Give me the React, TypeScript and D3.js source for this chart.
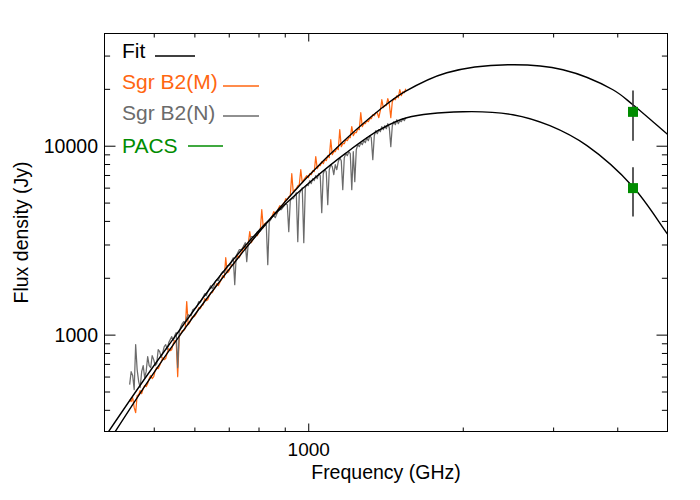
import React from 'react';
import * as d3 from 'd3';

const W = 700;
const H = 500;
const X_DOMAIN: [number, number] = [400, 5000];
const Y_DOMAIN: [number, number] = [309, 39500];
const X_MAJOR = [1000];
const X_MINOR = [500, 600, 700, 800, 900, 2000, 3000, 4000];
const Y_MAJOR = [1000, 10000];
const Y_MINOR = [400, 500, 600, 700, 800, 900, 2000, 3000, 4000, 5000, 6000, 7000, 8000, 9000, 20000, 30000];
const X_TICK_LABELS = ['1000'];
const Y_TICK_LABELS = ['1000', '10000'];

// SPIRE FTS spectral grid (GHz)
const specFreq = [
  447.8, 450.8, 453.9, 457.0, 460.0, 463.1, 466.3, 469.4, 472.6, 475.8,
  479.0, 482.2, 485.5, 488.8, 492.1, 495.4, 498.8, 502.2, 505.6, 509.0,
  512.4, 515.9, 519.4, 522.9, 526.4, 530.0, 533.5, 537.1, 540.8, 544.5,
  548.1, 551.8, 555.5, 559.3, 563.1, 566.9, 570.7, 574.6, 578.4, 582.3,
  586.3, 590.3, 594.2, 598.2, 602.3, 606.4, 610.4, 614.5, 618.7, 622.9,
  627.1, 631.3, 635.6, 639.9, 644.2, 648.6, 652.9, 657.3, 661.8, 666.3,
  670.8, 675.3, 679.9, 684.5, 689.1, 693.8, 698.4, 703.1, 707.9, 712.7,
  717.5, 722.3, 727.2, 732.1, 737.1, 742.1, 747.1, 752.1, 757.2, 762.3,
  767.5, 772.7, 777.9, 783.2, 788.4, 793.7, 799.1, 804.5, 810.0, 815.5,
  820.9, 826.5, 832.1, 837.7, 843.4, 849.1, 854.8, 860.6, 866.4, 872.3,
  878.1, 884.0, 890.0, 896.0, 902.1, 908.2, 914.3, 920.5, 926.7, 933.0,
  939.3, 945.6, 952.0, 958.4, 964.9, 971.4, 978.0, 984.6, 991.3, 998.0,
  1004.5, 1011.3, 1018.1, 1025.0, 1031.9, 1038.9, 1045.9, 1053.0, 1060.1, 1067.3,
  1074.5, 1081.8, 1089.0, 1096.4, 1103.8, 1111.3, 1118.8, 1126.4, 1134.0, 1141.7,
  1149.3, 1157.1, 1164.9, 1172.8, 1180.7, 1188.7, 1196.7, 1204.8, 1212.9, 1221.1,
  1229.4, 1237.7, 1246.0, 1254.4, 1262.9, 1271.4, 1280.1, 1288.8, 1297.4, 1306.2,
  1315.0, 1323.9, 1332.9, 1341.9, 1350.9, 1360.0, 1369.3, 1378.6, 1387.8, 1397.2,
  1406.6, 1416.1, 1425.7, 1435.3, 1445.0, 1454.8, 1464.6, 1474.5, 1484.5, 1494.5,
  1504.6, 1514.8, 1525.0, 1535.3, 1545.7,
];

// Sgr B2(M) flux (Jy)
const fluxM = [
  456, 445, 467, 413, 389, 479, 484, 509, 490, 521,
  541, 534, 554, 589, 611, 589, 604, 649, 673, 665,
  690, 724, 760, 742, 752, 808, 848, 828, 838, 902,
  935, 924, 603, 982, 1018, 1056, 1056, 1082, 1504, 1137,
  1165, 1222, 1253, 1253, 1283, 1331, 1398, 1381, 1432, 1450,
  1560, 1522, 1541, 1617, 1678, 1678, 1740, 1783, 1873, 1827,
  1895, 1966, 2064, 2015, 2570, 2141, 2168, 2276, 2360, 2331,
  2448, 2508, 2634, 2570, 2699, 2766, 2975, 2834, 2940, 3049,
  3528, 3086, 3201, 3280, 3401, 3360, 3528, 3571, 4613, 3705,
  3890, 3937, 3986, 4035, 4185, 4288, 4502, 4394, 4393, 4670,
  4844, 4785, 4903, 5024, 5276, 5211, 5405, 5471, 7154, 5676,
  5887, 5959, 6180, 6256, 7511, 6410, 6649, 6813, 6982, 6813,
  7154, 7067, 7420, 7330, 8800, 7603, 7886, 7886, 8280, 8081,
  8484, 8381, 8908, 8694, 10826, 9018, 9353, 9353, 9821, 9584,
  12229, 9941, 10312, 10312, 10826, 10695, 11093, 11093, 12684, 11367,
  11790, 11790, 12379, 12229, 15043, 12684, 13157, 13157, 13646, 13480,
  13983, 13983, 14681, 14497, 15043, 15043, 14154, 15414, 17624, 15988,
  16382, 16382, 17841, 16787, 14154, 17199, 17841, 17624, 18504, 18059,
  19908, 18504, 19428, 19193, 20153,
];

// Sgr B2(N) flux (Jy)
const fluxN = [
  547, 641, 611, 515, 891, 657, 568, 528, 641, 690,
  596, 641, 770, 690, 673, 779, 742, 690, 707, 838,
  818, 760, 808, 869, 891, 838, 913, 947, 982, 935,
  994, 1031, 673, 1031, 1109, 1151, 1179, 1165, 1237, 1283,
  1268, 1268, 1364, 1381, 1398, 1432, 1504, 1486, 1541, 1598,
  1657, 1617, 1698, 1761, 1827, 1761, 1800, 1919, 1966, 1942,
  2040, 2116, 2168, 2141, 2248, 2331, 2331, 2360, 2478, 2570,
  1850, 2634, 2732, 2834, 2834, 2869, 2975, 3086, 2448, 3049,
  3201, 3320, 3320, 3280, 3401, 3528, 3571, 3659, 3704, 3796,
  3795, 3843, 2360, 3986, 4084, 4236, 4288, 4185, 4394, 4557,
  4613, 4613, 4727, 4844, 4964, 4903, 3528, 5148, 5275, 5275,
  5471, 5676, 3124, 5607, 5816, 6032, 3086, 6032, 6256, 6180,
  6569, 6333, 6731, 6569, 6982, 6731, 7154, 6982, 4447, 7154,
  7511, 7330, 4903, 7511, 7983, 7790, 7067, 7983, 7511, 8280,
  8694, 8381, 5887, 8694, 9129, 8908, 9353, 9129, 5887, 9353,
  6489, 9584, 10186, 9941, 10437, 10186, 10695, 10437, 11093, 10695,
  11367, 11093, 8484, 11367, 12081, 11648, 12229, 11934, 12684, 12229,
  12839, 12379, 13157, 12531, 9942, 12839, 13480, 12997, 13813, 13157,
  13646, 13480, 13983, 13646, 14154,
];

// Modified blackbody fits
const fitMFreq = [409.4, 485.5, 560.4, 647.0, 750.4, 862.3, 991, 1165, 1375, 1539, 1858, 2443, 3127, 3914, 4281, 5010, 5287];
const fitMFlux = [278, 566, 994, 1692, 2834, 4458, 6811, 10540, 15600, 19430, 24490, 26990, 25400, 19900, 16580, 11500, 10150];
const fitNFreq = [398.6, 485.5, 550.4, 638.4, 740.4, 866.2, 1018, 1181, 1375, 1552, 1996, 2498, 2950, 3484, 4281, 5010, 5287];
const fitNFlux = [283, 619, 994, 1729, 2834, 4470, 6649, 9195, 12229, 14150, 15220, 14680, 12840, 10063, 6105, 3402, 2786];

// PACS photometry
const pacsFreq = [4283, 4283];
const pacsFlux = [15200, 6000];
const pacsErr = [4500, 1750];

const legendLabels = ['Fit', 'Sgr B2(M)', 'Sgr B2(N)', 'PACS'];
const COLORS = { fit: '#000000', m: '#ff6611', n: '#6b6b6b', pacs: '#008c00' };
const FONT = "'Liberation Sans', Arial, Helvetica, sans-serif";

export default function App() {
  const x0 = 104.5, x1 = 667.5, y0 = 33.5, y1 = 431.5;
  const x = d3.scaleLog().domain(X_DOMAIN).range([x0, x1]);
  const y = d3.scaleLog().domain(Y_DOMAIN).range([y1, y0]);

  const line = d3.line<[number, number]>().x(d => x(d[0])).y(d => y(d[1]));
  const smooth = d3.line<[number, number]>().x(d => x(d[0])).y(d => y(d[1])).curve(d3.curveCatmullRom.alpha(0.5));

  const specM = specFreq.map((f, i) => [f, fluxM[i]] as [number, number]);
  const specN = specFreq.map((f, i) => [f, fluxN[i]] as [number, number]);
  const fitM = fitMFreq.map((f, i) => [f, fitMFlux[i]] as [number, number]);
  const fitN = fitNFreq.map((f, i) => [f, fitNFlux[i]] as [number, number]);

  const yMajLen = 11, yMinLen = 5.6, xMajLen = 8, xMinLen = 4;

  const legendRows = [
    { label: legendLabels[0], color: COLORS.fit, base: 58, ly: 56, lx0: 155, lx1: 195 },
    { label: legendLabels[1], color: COLORS.m, base: 89, ly: 86, lx0: 223, lx1: 259 },
    { label: legendLabels[2], color: COLORS.n, base: 120, ly: 116, lx0: 223, lx1: 259 },
    { label: legendLabels[3], color: COLORS.pacs, base: 153, ly: 146, lx0: 188, lx1: 223 },
  ];

  return (
    <svg width={W} height={H} style={{ position: 'absolute', left: 0, top: 0, background: '#fff' }} fontFamily={FONT}>
      <rect x={0} y={0} width={W} height={H} fill="#fff" />
      <defs>
        <clipPath id="plotclip">
          <rect x={x0} y={y0} width={x1 - x0} height={y1 - y0} />
        </clipPath>
      </defs>
      <g clipPath="url(#plotclip)">
        <path d={line(specM) || ''} fill="none" stroke={COLORS.m} strokeWidth={1.25} strokeLinejoin="round" />
        <path d={line(specN) || ''} fill="none" stroke={COLORS.n} strokeWidth={1.25} strokeLinejoin="round" />
        <path d={smooth(fitM) || ''} fill="none" stroke={COLORS.fit} strokeWidth={1.4} />
        <path d={smooth(fitN) || ''} fill="none" stroke={COLORS.fit} strokeWidth={1.4} />
        {pacsFreq.map((f, i) => (
          <g key={i}>
            <line x1={x(f)} x2={x(f)} y1={y(pacsFlux[i] - pacsErr[i])} y2={y(pacsFlux[i] + pacsErr[i])} stroke="#333" strokeWidth={1.6} />
            <rect x={x(f) - 5} y={y(pacsFlux[i]) - 5} width={10} height={10} fill={COLORS.pacs} />
          </g>
        ))}
      </g>

      {/* frame */}
      <rect x={x0} y={y0} width={x1 - x0} height={y1 - y0} fill="none" stroke="#000" strokeWidth={1} />

      {/* y ticks */}
      {Y_MAJOR.map(v => (
        <g key={'ym' + v}>
          <line x1={x0} x2={x0 + yMajLen} y1={y(v)} y2={y(v)} stroke="#000" />
          <line x1={x1} x2={x1 - yMajLen} y1={y(v)} y2={y(v)} stroke="#000" />
        </g>
      ))}
      {Y_MINOR.map(v => (
        <g key={'yn' + v}>
          <line x1={x0} x2={x0 + yMinLen} y1={y(v)} y2={y(v)} stroke="#000" />
          <line x1={x1} x2={x1 - yMinLen} y1={y(v)} y2={y(v)} stroke="#000" />
        </g>
      ))}
      {/* x ticks */}
      {X_MAJOR.map(v => (
        <g key={'xm' + v}>
          <line x1={x(v)} x2={x(v)} y1={y1} y2={y1 - xMajLen} stroke="#000" />
          <line x1={x(v)} x2={x(v)} y1={y0} y2={y0 + xMajLen} stroke="#000" />
        </g>
      ))}
      {X_MINOR.map(v => (
        <g key={'xn' + v}>
          <line x1={x(v)} x2={x(v)} y1={y1} y2={y1 - xMinLen} stroke="#000" />
          <line x1={x(v)} x2={x(v)} y1={y0} y2={y0 + xMinLen} stroke="#000" />
        </g>
      ))}

      {/* tick labels */}
      {Y_MAJOR.map((v, i) => (
        <text key={'yl' + v} x={98} y={y(v) + 7} textAnchor="end" fontSize={19.5} fill="#000">{Y_TICK_LABELS[i]}</text>
      ))}
      {X_MAJOR.map((v, i) => (
        <text key={'xl' + v} x={x(v)} y={456} textAnchor="middle" fontSize={19} fill="#000">{X_TICK_LABELS[i]}</text>
      ))}

      {/* axis titles */}
      <text x={(x0 + x1) / 2} y={479} textAnchor="middle" fontSize={19.5} fill="#000">Frequency (GHz)</text>
      <text transform={`translate(28,${(y0 + y1) / 2}) rotate(-90)`} textAnchor="middle" fontSize={19.5} fill="#000">Flux density (Jy)</text>

      {/* legend */}
      {legendRows.map(r => (
        <g key={r.label}>
          <text x={122} y={r.base} fontSize={21} fill={r.color}>{r.label}</text>
          <line x1={r.lx0} x2={r.lx1} y1={r.ly} y2={r.ly} stroke={r.color} strokeWidth={1.3} />
        </g>
      ))}
    </svg>
  );
}
